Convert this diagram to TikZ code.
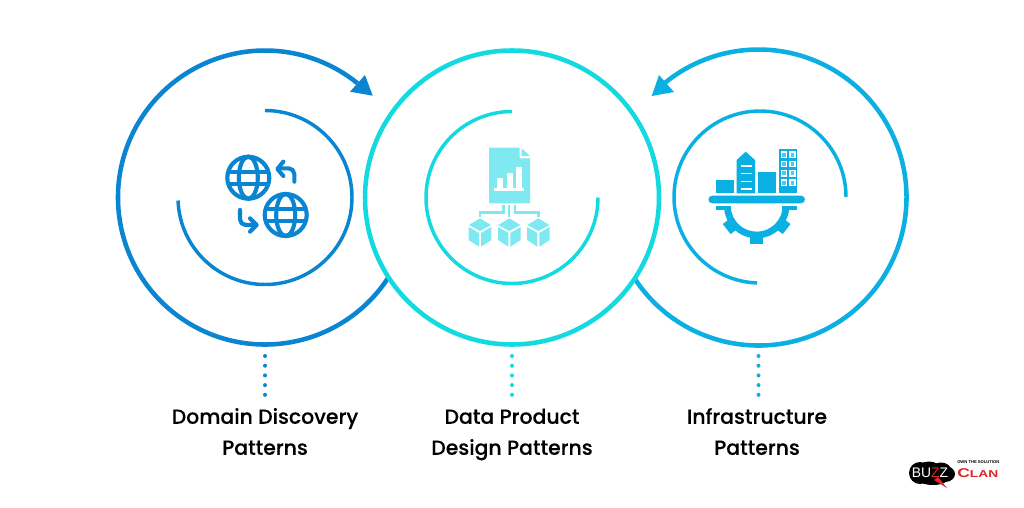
\documentclass[tikz,border=0pt]{standalone}
\usepackage{fontspec}
\setmainfont{Poppins}
\newfontfamily\labfont[FakeBold=0.1]{Poppins Medium}
\newfontfamily\logofont{Liberation Sans}
\usetikzlibrary{calc}
\definecolor{cblue}{HTML}{0A85D1}
\definecolor{cteal}{HTML}{12DAE0}
\definecolor{csky}{HTML}{0BB0E3}
\definecolor{cpale}{HTML}{7FE9F1}
\definecolor{clogo}{HTML}{E0252B}
\tikzset{
  ring/.style={line width=3.4pt,line cap=butt},
  innerring/.style={line width=2.6pt,line cap=butt},
  dots/.style={line width=3pt,line cap=round,dash pattern=on 0pt off 7.28pt},
  lab/.style={font=\labfont\fontsize{15.3pt}{23.25pt}\selectfont,align=center,text=black,inner sep=0pt},
  globe/.style={line width=3.1pt,cblue},
  bendy/.style={line width=3.1pt,cblue,line cap=round,line join=round},
}
\newcommand{\globeicon}[1]{%
  \draw[globe] (#1) circle[radius=21];
  \draw[globe] (#1) ellipse[x radius=9.5,y radius=21];
  \draw[globe] ($(#1)+(-20,-6)$) -- ++(40,0);
  \draw[globe] ($(#1)+(-20,6)$) -- ++(40,0);
}
\newcommand{\cubeicon}[1]{%
  \begin{scope}[shift={(#1)}]
    \fill[cpale] (0,-40) -- (33,-20) -- (0,-2) -- (-33,-20) -- cycle;
    \fill[cpale] (-34,-14) -- (-3,4) -- (-3,45) -- (-34,25) -- cycle;
    \fill[cpale] (34,-14) -- (3,4) -- (3,45) -- (34,25) -- cycle;
  \end{scope}
}
\begin{document}
\begin{tikzpicture}[x=0.75pt,y=-0.75pt]
\useasboundingbox (0,0) rectangle (1024,507);
\fill[white] (0,0) rectangle (1024,507);
\coordinate (cL) at (265,197.5);
\coordinate (cM) at (512,197.5);
\coordinate (cR) at (758.5,197.5);
\coordinate (cRi) at (760,197);
% outer rings
\draw[ring,cblue] ($(cL)+(33:147)$) arc[start angle=33,end angle=309,radius=147];
\fill[cblue] (372.7,95.7) -- (350,91.7) -- (365,75) -- cycle;
\draw[ring,csky] ($(cR)+(147:148)$) arc[start angle=147,end angle=-129,radius=148];
\fill[csky] (651.7,96) -- (659,75) -- (674,92) -- cycle;
\draw[ring,cteal] (cM) circle[radius=147];
% inner arcs
\draw[innerring,cblue] ($(cL)+(-90:87)$) arc[start angle=-90,end angle=178,radius=87];
\draw[innerring,cteal] ($(cM)+(-90:86)$) arc[start angle=270,end angle=0,radius=86];
\draw[innerring,csky] ($(cRi)+(0:86)$) arc[start angle=0,end angle=-268,radius=86];
% globes icon
\globeicon{248.3,177.7}
\globeicon{285.7,215}
\begin{scope}[shift={(200,130)},scale=1/3]
  \draw[bendy] (283,155) -- (283,132) arc[start angle=0,end angle=-90,radius=17] -- (235,115);
  \draw[bendy] (250,95) -- (232,117) -- (250,138);
  \draw[bendy] (120,240) -- (120,268) arc[start angle=180,end angle=90,radius=17] -- (168,285);
  \draw[bendy] (150,265) -- (170,285) -- (150,305);
\end{scope}
% document icon
\begin{scope}[shift={(450,135)},scale=1/3]
  \fill[cpale] (117,38) -- (209,38) -- (209,70) -- (240,70) -- (240,205) -- (117,205) -- cycle;
  \fill[cpale] (215,40) -- (240,63) -- (215,63) -- cycle;
  \fill[white] (140,130) rectangle (158,158);
  \fill[white] (170,113) rectangle (188,158);
  \fill[white] (197,95) rectangle (215,158);
  \fill[white] (132,160) rectangle (222,168);
  \draw[cpale,line width=2pt] (160,210) -- (160,232) -- (90,232) -- (90,246);
  \draw[cpale,line width=2pt] (177,210) -- (177,246);
  \draw[cpale,line width=2pt] (195,210) -- (195,232) -- (265,232) -- (265,246);
  \cubeicon{90,290}
  \cubeicon{178,290}
  \cubeicon{265,290}
\end{scope}
% infrastructure icon
\begin{scope}[shift={(700,135)},scale=1/3]
  \fill[csky] (47,135) rectangle (103,175);
  \fill[csky] (110,175) -- (110,75) -- (137,50) -- (165,75) -- (165,175) -- cycle;
  \foreach \yy in {90,113,137,160} \fill[white] (122,\yy) rectangle (155,\yy+5);
  \fill[csky] (173,110) rectangle (228,175);
  \fill[csky] (237,42) rectangle (292,175);
  \foreach \yy in {49,77,105,133} \foreach \xx in {243,268} {
    \fill[white] (\xx,\yy) rectangle (\xx+19,\yy+20);
    \fill[csky!70] (\xx+4,\yy+4) rectangle (\xx+15,\yy+16);
  }
  \fill[csky,rounded corners=3pt] (25,182) rectangle (315,205);
  \coordinate (gearc) at (170,212);
  \fill[csky] ($(gearc)+(3:98)$) arc[start angle=3,end angle=177,radius=98] -- ($(gearc)+(177:78)$) arc[start angle=177,end angle=3,radius=78] -- cycle;
  \fill[csky] (47,212) rectangle (92,224);
  \fill[csky] (247,212) rectangle (292,224);
  \foreach \a in {38,90,142} {
    \fill[csky] ($(gearc)+(\a:92)+(\a+90:19)$) -- ($(gearc)+(\a:114)+(\a+90:19)$) -- ($(gearc)+(\a:114)+(\a-90:19)$) -- ($(gearc)+(\a:92)+(\a-90:19)$) -- cycle;
  }
\end{scope}
% dotted connectors
\coordinate (dL1) at (265,356); \coordinate (dL2) at (265,396);
\coordinate (dM1) at (512,356); \coordinate (dM2) at (512,396);
\coordinate (dR1) at (758.5,356); \coordinate (dR2) at (758.5,396);
\draw[dots,cblue] (dL1) -- (dL2);
\draw[dots,cteal] (dM1) -- (dM2);
\draw[dots,csky] (dR1) -- (dR2);
% labels
\node[lab] (t1) at (265,431.5) {Domain Discovery\\Patterns};
\node[lab] (t2) at (512,434.5) {Data Product\\Design Patterns};
\node[lab] (t3) at (757,431.5) {Infrastructure\\Patterns};
% logo
\fill[black] (920,473) circle[radius=11];
\fill[black] (929,470) ellipse[x radius=12,y radius=8.5];
\fill[black] (941,470) ellipse[x radius=10,y radius=7.5];
\fill[black] (945,474) ellipse[x radius=10,y radius=8];
\fill[black] (933,479) ellipse[x radius=15,y radius=6];
\fill[clogo] (934,480) -- (947,488) -- (938,477) -- cycle;
\node[inner sep=0pt,font=\logofont\fontsize{10.4pt}{11pt}\selectfont] (logoa) at (930,473) {\textcolor{white}{BU}\textcolor{clogo}{Z}\textcolor{white}{Z}};
\node[inner sep=0pt,font=\logofont\bfseries,text=clogo,anchor=west] (logob) at (957,473) {\scalebox{1.38}[1]{\fontsize{9.5pt}{10pt}\selectfont C\fontsize{7.5pt}{8pt}\selectfont LAN}};
\node[inner sep=0pt,font=\logofont\bfseries\fontsize{3.1pt}{3.5pt}\selectfont,text=black,anchor=west] (logoc) at (957,462.5) {OWN THE SOLUTION};
\end{tikzpicture}
\end{document}
